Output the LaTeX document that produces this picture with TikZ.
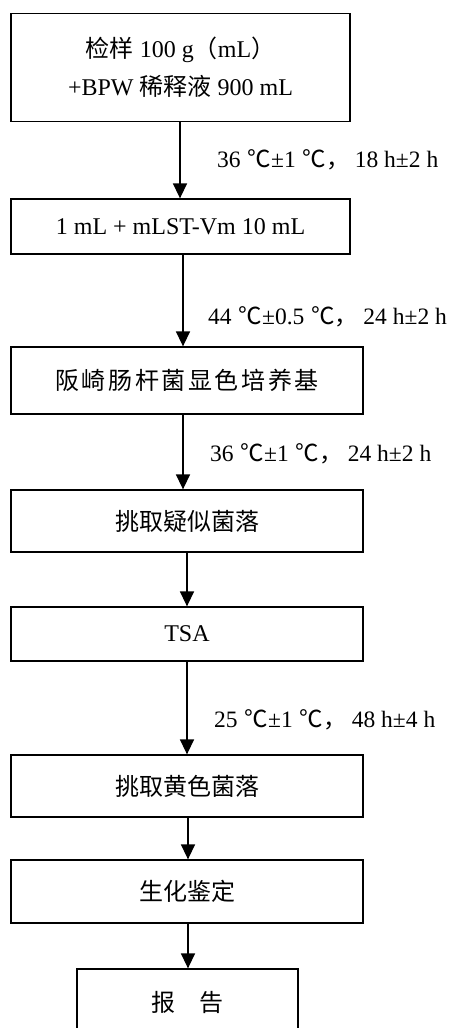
\documentclass[tikz,border=0pt]{standalone}
\usepackage{fontspec}
\setmainfont{Liberation Serif}
\newfontfamily\cjk{Noto Sans CJK SC}
\usetikzlibrary{arrows.meta}
\newcommand{\dg}{\hspace{7pt}{\cjk ℃}}
\newcommand{\ks}{\kern2.6pt }
\begin{document}
\begin{tikzpicture}[x=1pt,y=-1pt,
  box/.style={draw, line width=1.3pt, inner sep=0pt, align=center, font=\fontsize{24}{28}\selectfont},
  arr/.style={-{Triangle[width=14pt,length=15pt]}, line width=1.5pt},
  lab/.style={anchor=west, inner sep=0pt, font=\fontsize{23.5}{26}\selectfont}]
\useasboundingbox (0,0) rectangle (460,1028);
\clip (0,0) rectangle (460,1028);
\fill[white] (0,0) rectangle (460,1028);

\node[box, minimum width=339pt, minimum height=108pt, font=\fontsize{24}{38}\selectfont] (b1) at (180.5,67.5)
  {{\cjk 检样} 100 g{\cjk （}mL{\cjk ）}\\+BPW {\cjk 稀释液} 900 mL};
\node[box, minimum width=339pt, minimum height=55pt] (b2) at (180.5,226.5) {1 mL + mLST-Vm 10 mL};
\node[box, minimum width=352pt, minimum height=67pt] (b3) at (187,380.5) {{\cjk 阪\ks 崎\ks 肠\ks 杆\ks 菌\ks 显\ks 色\ks 培\ks 养\ks 基}};
\node[box, minimum width=352pt, minimum height=62pt] (b4) at (187,521) {{\cjk 挑取疑似菌落}};
\node[box, minimum width=352pt, minimum height=54pt] (b5) at (187,634) {TSA};
\node[box, minimum width=352pt, minimum height=62pt] (b6) at (187,786) {{\cjk 挑取黄色菌落}};
\node[box, minimum width=352pt, minimum height=63pt] (b7) at (187,891.5) {{\cjk 生化鉴定}};
\node[box, minimum width=221pt, minimum height=66pt] (b8) at (187.5,1002) {{\cjk 报\quad 告}};

\coordinate (c1) at (180,0);
\coordinate (c2) at (183,0);
\coordinate (c4) at (187,0);
\coordinate (c6) at (188,0);

\draw[arr] (b1.south -| c1) -- (b2.north -| c1);
\draw[arr] (b2.south -| c2) -- (b3.north -| c2);
\draw[arr] (b3.south -| c2) -- (b4.north -| c2);
\draw[arr] (b4.south -| c4) -- (b5.north -| c4);
\draw[arr] (b5.south -| c4) -- (b6.north -| c4);
\draw[arr] (b6.south -| c6) -- (b7.north -| c6);
\draw[arr] (b7.south -| c6) -- (b8.north -| c6);

\node[lab] (l1) at (217,160) {36\dg±1\dg{\cjk ，}\hspace{5pt}18 h±2 h};
\node[lab] (l2) at (208,317) {44\dg±0.5\dg{\cjk ，}\hspace{5pt}24 h±2 h};
\node[lab] (l3) at (210,454) {36\dg±1\dg{\cjk ，}\hspace{5pt}24 h±2 h};
\node[lab] (l4) at (214,720) {25\dg±1\dg{\cjk ，}\hspace{5pt}48 h±4 h};
\end{tikzpicture}
\end{document}
